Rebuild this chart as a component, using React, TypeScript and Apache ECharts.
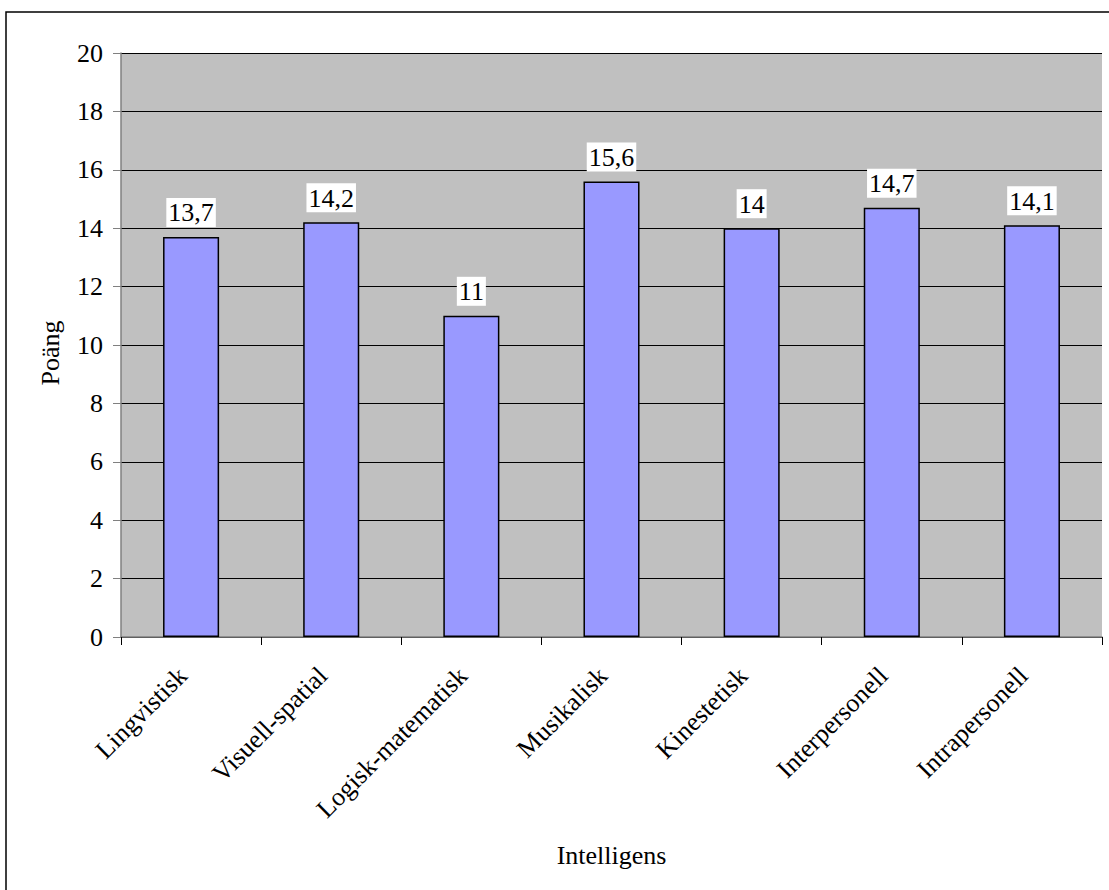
import React, { useEffect, useRef } from "react";
import * as echarts from "echarts";

// Mean score per intelligence type
const categories = [
  "Lingvistisk",
  "Visuell-spatial",
  "Logisk-matematisk",
  "Musikalisk",
  "Kinestetisk",
  "Interpersonell",
  "Intrapersonell",
];
const scores = [13.7, 14.2, 11, 15.6, 14, 14.7, 14.1];

const yMin = 0;
const yMax = 20;
const yStep = 2;

const FONT = "Liberation Serif";

export default function App() {
  const ref = useRef<HTMLDivElement>(null);

  useEffect(() => {
    if (!ref.current) return;
    const chart = echarts.init(ref.current, null, { renderer: "svg" });
    const txt = { fontFamily: FONT, fontSize: 26, color: "#000", fontWeight: "normal" as const };
    chart.setOption({
      animation: false,
      backgroundColor: "#ffffff",
      textStyle: { fontFamily: FONT, color: "#000" },
      graphic: [
        {
          type: "rect",
          shape: { x: 6, y: 12, width: 1130, height: 900 },
          style: { fill: "none", stroke: "#000", lineWidth: 1.5 },
          silent: true,
          z: 10,
        },
      ],
      grid: {
        left: 121,
        top: 53,
        right: 7,
        bottom: 253,
        show: true,
        backgroundColor: "#c0c0c0",
        borderWidth: 0,
      },
      xAxis: {
        type: "category",
        data: categories,
        name: "Intelligens",
        nameLocation: "middle",
        nameGap: 205,
        nameTextStyle: { ...txt },
        axisLine: { show: true, lineStyle: { color: "#808080", width: 1.5 } },
        axisTick: { show: true, length: 8, lineStyle: { color: "#000" } },
        axisLabel: {
          interval: 0,
          rotate: 45,
          margin: 26,
          padding: [0, 12, 0, 0],
          ...txt,
        },
      },
      yAxis: {
        type: "value",
        min: yMin,
        max: yMax,
        interval: yStep,
        name: "Poäng",
        nameLocation: "middle",
        nameGap: 58,
        nameRotate: 90,
        nameTextStyle: { ...txt, padding: [0, 16, 0, 0] },
        axisLine: { show: true, lineStyle: { color: "#808080", width: 1.5 } },
        axisTick: { show: true, length: 8, lineStyle: { color: "#808080" } },
        axisLabel: {
          margin: 18,
          ...txt,
        },
        splitLine: { show: true, lineStyle: { color: "#000", width: 1 } },
      },
      series: [
        {
          type: "bar",
          data: scores,
          barWidth: "40%",
          itemStyle: {
            color: "#9999ff",
            borderColor: "#000",
            borderWidth: 1.5,
          },
          label: {
            show: true,
            position: "top",
            distance: 10,
            ...txt,
            backgroundColor: "#ffffff",
            padding: [2, 2, 1, 2],
            formatter: (p: any) => String(p.value).replace(".", ","),
          },
        },
      ],
    });
    return () => chart.dispose();
  }, []);

  return (
    <div
      ref={ref}
      style={{
        position: "fixed",
        left: 0,
        top: 0,
        width: 1109,
        height: 890,
      }}
    />
  );
}
